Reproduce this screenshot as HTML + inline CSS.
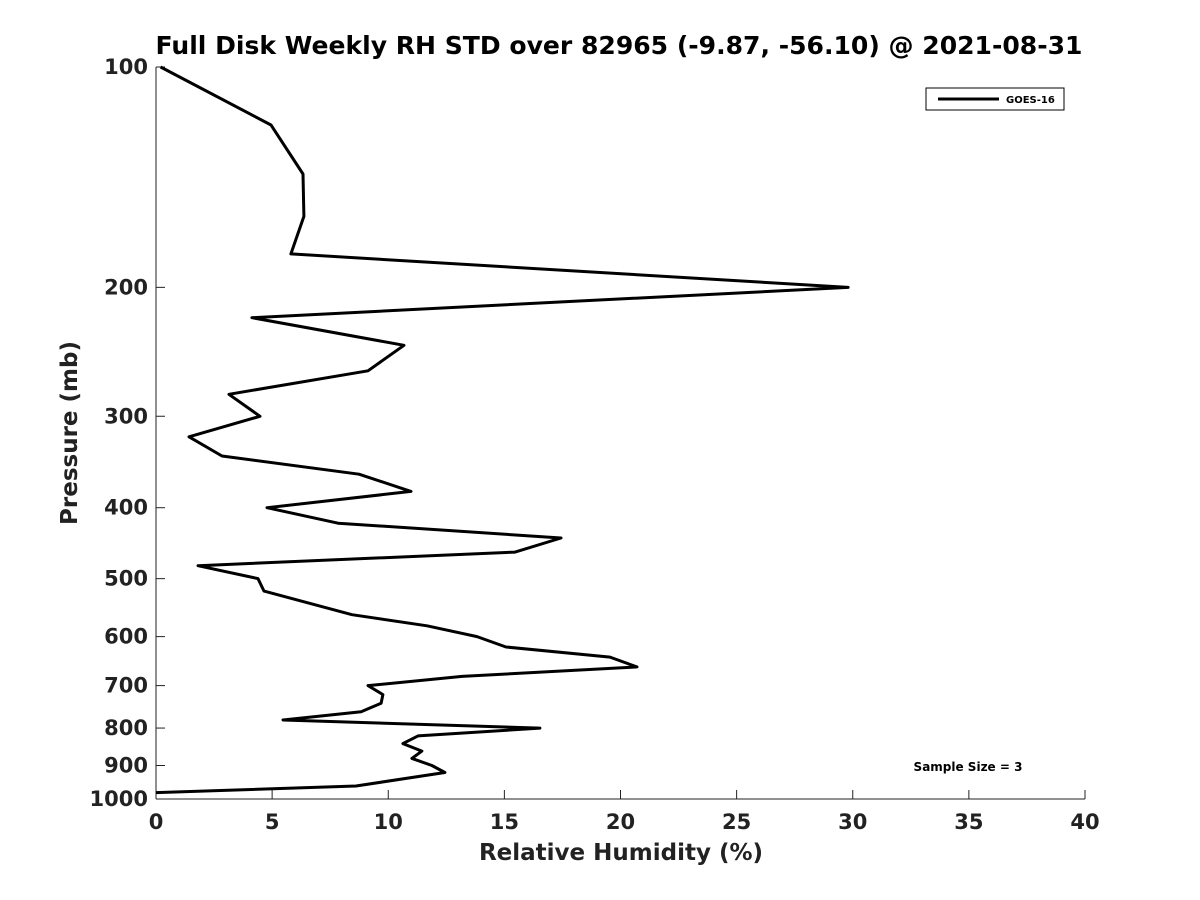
<!DOCTYPE html>
<html><head><meta charset="utf-8"><style>
body{margin:0;background:#fff;}
svg{display:block;font-family:"DejaVu Sans","Liberation Sans",sans-serif;}
</style></head><body>
<svg id="chart" width="1200" height="900">
<text x="619" y="54" text-anchor="middle" font-size="25" font-weight="bold" fill="#000" textLength="927" lengthAdjust="spacingAndGlyphs">Full Disk Weekly RH STD over 82965 (-9.87, -56.10) @ 2021-08-31</text>
<g id="axes"></g>
<path id="line" fill="none" stroke="#000" stroke-width="3" stroke-linejoin="round"/>
<g>
<rect x="926" y="88" width="138" height="22" fill="#fff" stroke="#000" stroke-width="1"/>
<line x1="938" y1="99" x2="999" y2="99" stroke="#000" stroke-width="3"/>
<text x="1006" y="103" font-size="10" font-weight="bold">GOES-16</text>
</g>
<text x="968" y="771" text-anchor="middle" font-size="12" font-weight="bold">Sample Size = 3</text>
<text x="621" y="860" text-anchor="middle" font-size="23" font-weight="bold" fill="#222">Relative Humidity (%)</text>
<text transform="translate(77,433) rotate(-90)" text-anchor="middle" font-size="23" font-weight="bold" fill="#222">Pressure (mb)</text>
</svg>
<script>
const pressures=[100,120,140,160,180,200,220,240,260,280,300,320,340,360,380,400,420,440,460,480,500,520,560,580,600,620,640,660,680,700,720,740,760,780,800,820,840,860,880,900,920,960,980];
const rhStd=[0.2,4.95,6.33,6.37,5.81,29.8,4.13,10.68,9.13,3.14,4.48,1.42,2.84,8.74,10.98,4.78,7.84,17.44,15.46,1.81,4.39,4.65,8.44,11.67,13.82,15.07,19.55,20.71,13.18,9.13,9.77,9.69,8.83,5.47,16.53,11.28,10.63,11.45,11.02,11.88,12.44,8.61,0];
const xTicks=[0,5,10,15,20,25,30,35,40];
const yTicks=[100,200,300,400,500,600,700,800,900,1000];
const X0=156,X1=1085,Y0=67,Y1=799;
const sx=v=>X0+(v-0)/40*(X1-X0);
const sy=p=>Y0+Math.log10(p/100)*(Y1-Y0);
const ns="http://www.w3.org/2000/svg";
const ax=document.getElementById('axes');
function el(t,a,txt){const e=document.createElementNS(ns,t);for(const k in a)e.setAttribute(k,a[k]);if(txt!==undefined)e.textContent=txt;ax.appendChild(e);return e;}
const xl=el('line',{x1:X0,y1:Y1,x2:X1,y2:Y1,stroke:'#222','stroke-width':1});


const yl=el('line',{x1:X0,y1:Y0,x2:X0,y2:Y1,stroke:'#222','stroke-width':1});


xTicks.forEach(v=>{
 el('line',{x1:sx(v),y1:Y1,x2:sx(v),y2:Y1-9,stroke:'#222'});
 const t=el('text',{x:sx(v),y:Y1+30,'text-anchor':'middle','font-size':21,'font-weight':'bold',fill:'#222'},String(v));
 
 
});
yTicks.forEach(p=>{
 el('line',{x1:X0,y1:sy(p),x2:X0+9,y2:sy(p),stroke:'#222'});
 const t=el('text',{x:X0-8,y:sy(p)+7,'text-anchor':'end','font-size':21,'font-weight':'bold',fill:'#222'},String(p));
 
 
});
document.getElementById('line').setAttribute('d',pressures.map((p,i)=>(i?'L':'M')+sx(rhStd[i]).toFixed(1)+','+sy(p).toFixed(1)).join(''));
</script>
</body></html>
